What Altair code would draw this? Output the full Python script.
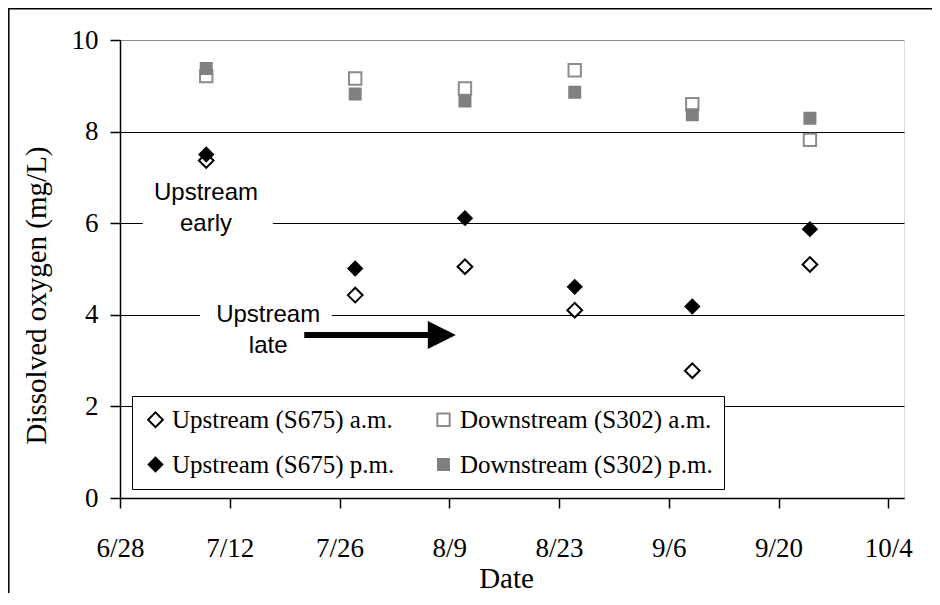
import altair as alt
import pandas as pd

YEAR = 2005
START = "6/28"

# sampling dates and dissolved oxygen values (mg/L)
sample_dates = ["7/9", "7/28", "8/11", "8/25", "9/9", "9/24"]
up_am = [7.37, 4.43, 5.05, 4.10, 2.78, 5.10]
dn_am = [9.21, 9.16, 8.94, 9.34, 8.60, 7.82]
up_pm = [7.50, 5.01, 6.11, 4.61, 4.18, 5.87]
dn_pm = [9.38, 8.82, 8.67, 8.86, 8.37, 8.29]

# legend order (column-major in a 2-column legend)
series_names = ["Upstream (S675) a.m.", "Upstream (S675) p.m.",
                "Downstream (S302) a.m.", "Downstream (S302) p.m."]
shape_range = ["diamond", "diamond", "square", "square"]
fill_range = ["white", "black", "white", "#808080"]
stroke_range = ["black", "black", "#8c8c8c", "#808080"]
size_range = [216, 121, 246, 137]

# drawing order: a.m. first, p.m. on top
draw_order = ["Upstream (S675) a.m.", "Downstream (S302) a.m.",
              "Upstream (S675) p.m.", "Downstream (S302) p.m."]
draw_values = [up_am, dn_am, up_pm, dn_pm]

x_tick_labels = ["6/28", "7/12", "7/26", "8/9", "8/23", "9/6", "9/20", "10/4"]
x_end = "10/6"
y_ticks = [0, 2, 4, 6, 8, 10]

# annotations
ann_text = [["Upstream", "early"], ["Upstream", "late"]]
ann_x = [10.97, 18.9]          # days after 6/28 (text centre)
ann_y = [6.51, 3.85]           # first-line baseline, mg/L
box_x = [2.9, 10.2]
box_x2 = [19.5, 27.0]
box_y = [7.1, 4.45]
box_y2 = [5.65, 3.0]
arrow_x = [23.5]
arrow_x2 = [39.4]
arrow_head_x = [41.05]
arrow_y = [3.56]


def day(s):
    return (pd.Timestamp(f"{YEAR}/{s}") - pd.Timestamp(f"{YEAR}/{START}")).days


tick_days = [day(s) for s in x_tick_labels]
label_expr = " : ".join(
    [f"datum.value == {d} ? '{l}'" for d, l in zip(tick_days, x_tick_labels)]
) + " : ''"

rows = []
for name, vals in zip(draw_order, draw_values):
    for d, v in zip(sample_dates, vals):
        rows.append({"series": name, "day": day(d), "value": v})
df = pd.DataFrame(rows)

SERIF = "Liberation Serif"
SANS = "Liberation Sans"

x_scale = alt.Scale(domain=[0, day(x_end)], nice=False, zero=False)
y_scale = alt.Scale(domain=[0, 10], nice=False)

points = alt.Chart(df).mark_point(filled=False, opacity=1, strokeWidth=2).encode(
    x=alt.X("day:Q", scale=x_scale, axis=alt.Axis(
        values=tick_days, labelExpr=label_expr, title="Date",
        grid=False, tickSize=10, tickColor="black", tickWidth=1.5,
        domainColor="black", domainWidth=1.5,
        labelFont=SERIF, labelFontSize=27, labelColor="black", labelPadding=27,
        labelFlush=False, labelOverlap=False,
        titleFont=SERIF, titleFontSize=29, titleFontWeight="normal", titleColor="black",
        titleX=386, titleY=89, titleBaseline="alphabetic")),
    y=alt.Y("value:Q", scale=y_scale, axis=alt.Axis(
        values=y_ticks, title="Dissolved oxygen (mg/L)",
        grid=True,
        gridColor={"condition": {"test": "datum.value >= 10", "value": "#8c8c8c"}, "value": "black"},
        gridWidth=1.2,
        tickSize=10, tickColor="black", tickWidth=1.5,
        domainColor="black", domainWidth=1.5,
        labelFont=SERIF, labelFontSize=27, labelColor="black", labelPadding=12,
        titleFont=SERIF, titleFontSize=29, titleFontWeight="normal", titleColor="black",
        titleAngle=270, titleX=-75, titleY=255, titleBaseline="alphabetic", titleAlign="center")),
    shape=alt.Shape("series:N", scale=alt.Scale(domain=series_names, range=shape_range),
                    legend=alt.Legend(
                        orient="none", legendX=12, legendY=356, columns=2, title=None,
                        strokeColor="black", fillColor="white", padding=11,
                        rowPadding=19, columnPadding=36,
                        labelFont=SERIF, labelFontSize=25, labelColor="black",
                        labelLimit=600, labelOffset=4, symbolStrokeWidth=2,
                        symbolOpacity=1)),
    fill=alt.Fill("series:N", scale=alt.Scale(domain=series_names, range=fill_range)),
    stroke=alt.Stroke("series:N", scale=alt.Scale(domain=series_names, range=stroke_range)),
    size=alt.Size("series:N", scale=alt.Scale(domain=series_names, range=size_range)),
)

ann_df = pd.DataFrame({"text": ann_text, "x": ann_x, "y": ann_y,
                       "bx": box_x, "bx2": box_x2, "by": box_y, "by2": box_y2})

boxes = alt.Chart(ann_df).mark_rect(fill="white", stroke=None).encode(
    x=alt.X("bx:Q", scale=x_scale), x2="bx2:Q",
    y=alt.Y("by:Q", scale=y_scale), y2="by2:Q")

texts = alt.Chart(ann_df).mark_text(
    font=SANS, fontSize=24, color="black", align="center",
    baseline="alphabetic", lineHeight=31.5).encode(
    x=alt.X("x:Q", scale=x_scale), y=alt.Y("y:Q", scale=y_scale), text="text")

arrow_df = pd.DataFrame({"x": arrow_x, "x2": arrow_x2, "hx": arrow_head_x, "y": arrow_y})
shaft = alt.Chart(arrow_df).mark_rule(color="black", strokeWidth=6, strokeCap="butt").encode(
    x=alt.X("x:Q", scale=x_scale), x2="x2:Q", y=alt.Y("y:Q", scale=y_scale))
head = alt.Chart(arrow_df).mark_point(
    shape="M-1,-1L1,0L-1,1Z", filled=True, fill="black", stroke="black",
    strokeWidth=0, size=784, opacity=1).encode(
    x=alt.X("hx:Q", scale=x_scale), y=alt.Y("y:Q", scale=y_scale))

frame = alt.Chart(arrow_df).mark_rect(fill=None, stroke="black", strokeWidth=1.5).encode(
    x=alt.value(-111.2), x2=alt.value(1000), y=alt.value(-31.2), y2=alt.value(800))

chart = alt.layer(frame, boxes, texts, shaft, head, points).properties(
    width=784, height=458,
    autosize=alt.AutoSizeParams(type="none"),
    padding={"left": 112, "top": 32, "right": 28, "bottom": 95},
).configure_view(
    stroke="#8c8c8c", strokeWidth=2
).configure(background="white")

chart.save("out.html", embed_options={"renderer": "svg", "actions": False})
